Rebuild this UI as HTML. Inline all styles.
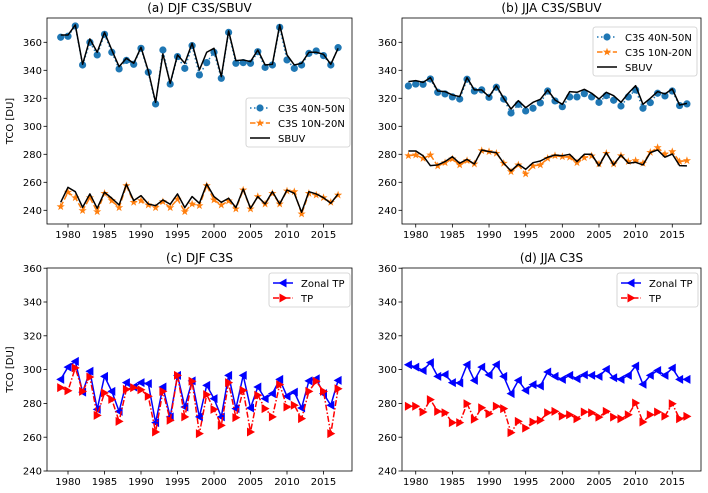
<!DOCTYPE html>
<html><head><meta charset="utf-8"><style>
body{margin:0;background:#fff}
svg{display:block;font-family:"DejaVu Sans","Liberation Sans",sans-serif}
</style></head><body>
<svg id="chart" width="708" height="493" viewBox="0 0 708 493" xmlns="http://www.w3.org/2000/svg"></svg>
<script>
const years = [];
for (let y = 1979; y <= 2017; y++) years.push(y);
const yTicks = [240, 260, 280, 300, 320, 340, 360];
const xTicks = [1980, 1985, 1990, 1995, 2000, 2005, 2010, 2015];

const djfC3S4050 = [363.6,364.3,371.7,343.8,360,351,365.7,352.9,341,347.1,344.3,355.7,338.6,316,354.5,330.2,349.8,341.4,357.6,336.7,345.5,352.9,334.3,367.1,345,345.5,345,353.3,342.1,343.8,370.7,347.4,341.4,343.8,352.1,353.8,350.5,343.8,356.2];
const djfSBUVHigh = [365.2,365.2,372.4,344.3,362.4,352.9,367.1,354.5,342.6,348.6,345,356.4,339.5,317.1,351.7,330.7,351,345,359.3,340.2,352.9,355.7,335.5,368.1,346.9,347.4,346.2,354.5,343.8,344.3,372.4,351,343.8,345,352.9,352.9,351.4,344.3,355.7];
const djfC3S1020 = [242.6,252.9,249,239.8,249,239,252.1,246.9,241.9,257.6,245.7,246.9,243.8,241.9,246.2,241.9,247.9,239,244.5,243.3,257.6,247.4,243.8,246.7,241,254.5,241,249.8,244.5,252.1,244.5,253.8,253.3,237.4,252.1,250.9,249,245.7,250.9];
const djfSBUVLow = [245.7,256.4,253.3,242.1,251.7,241.4,252.9,248.6,243.8,258.6,246.9,250.5,244.5,243.3,247.4,244.3,251.7,241.9,249.8,245,258.8,249.8,245.7,248.6,241.9,255.2,241.4,249.8,244.5,253.3,244.5,254.5,252.1,238.6,253.3,251.7,249,245,251.7];

const jjaC3S4050 = [328.8,330.2,330,333.8,324.3,323.1,321,319.5,333.6,325.2,326,320.7,327.9,319.5,309.5,315.7,311,312.9,316.7,325.2,318.1,314,321,321,323.3,321,317.1,321.9,318.6,314.5,321,326,312.9,316.9,323.6,321.7,325.2,314.8,316];
const jjaSBUVHigh = [331.9,332.6,331.4,334.8,325.2,324.8,322.4,321.2,334.8,326,326,321.2,329,320,312.4,318.3,313.3,317.1,319.3,326,318.8,315.7,324.8,324.3,326.4,323.6,319.5,324.3,321.9,317.1,323.6,329,315.7,320,324.8,323.1,326.7,315.2,316.4];
const jjaC3S1020 = [279,279.5,277.1,279.5,271.7,274,276.7,272.4,275.5,273.1,282.6,281.9,280.7,273.6,267.6,272.4,266,271.7,272.4,277.1,279,278.3,277.9,274,277.6,278.8,273.1,280.7,273.1,279,274.8,275.5,273.6,281.4,284.8,280.2,281.9,274.8,275.5];
const jjaSBUVLow = [282.4,282.4,279,271.9,272.4,274.8,278.3,273.6,276.4,273.1,283.1,281.9,281.2,273.6,268.1,272.9,269.3,274,275.2,277.9,279.5,279,280,274.8,280,280,271.7,281.2,272.4,279.5,273.6,274.3,272.4,281.2,283.1,277.9,280.2,271.9,271.7];

const djfZonalTP = [294.2,301.5,304.9,286.7,299,276.5,296,287.1,275.3,292.3,289.7,292.3,291.7,268.6,289.7,272,296.6,277.9,293.3,272,290.7,282.8,272,296.6,276.9,296.6,277.3,289.7,282.8,285.8,294.2,284.2,286.7,277.3,293.3,294.6,285.8,278.9,293.6];
const djfTP = [289.3,287.5,301,287.1,295.6,272.9,286.2,282.4,269.4,288.3,289.3,288.1,284.2,263.1,287.1,270,296.6,272,293.1,262.1,285.2,276.5,267,292.3,271.6,287.7,263.1,284.8,276.9,272,291.1,277.9,278.9,271,287.1,293.1,287.1,262.1,288.7];

const jjaZonalTP = [302.9,301.5,299.5,304.1,296,297,292.3,292.1,302.9,293.6,301.5,296.9,302.9,296,285.8,293.6,287.7,291.1,290.3,298.6,296,294.2,296.6,294.6,296.9,296.6,296,300.1,295.2,294.2,296.6,302.1,291.3,296.6,299.5,296.6,300.9,294.2,294.2];
const jjaTP = [278.3,278.3,274.9,282.2,275.3,274.5,268.6,268.6,279.8,270.6,277.4,273.9,278.3,276.9,262.7,269.4,265.4,269,270,274.5,275.3,272.5,273.3,270.9,274.9,274.5,271.9,275.3,271.9,270.9,273.3,280.2,269,273.3,274.9,272.5,279.8,270.9,272.3];

const svg = document.getElementById('chart');
const NS = 'http://www.w3.org/2000/svg';
function mk(tag, attrs, parent) {
  const e = document.createElementNS(NS, tag);
  for (const k in attrs) e.setAttribute(k, attrs[k]);
  (parent || svg).appendChild(e);
  return e;
}

const panels = [
  {id:'a', title:'(a) DJF C3S/SBUV', L:47, R:352, T:18, B:224, x0:60.7, dx:7.3, vy0:42.3, vs:1.4, ylab:true},
  {id:'b', title:'(b) JJA C3S/SBUV', L:402, R:701, T:18, B:224, x0:408.4, dx:7.33, vy0:42.3, vs:1.4, ylab:false},
  {id:'c', title:'(c) DJF C3S', L:47, R:352, T:268, B:471, x0:60.7, dx:7.3, vy0:268.2, vs:1.69, ylab:true},
  {id:'d', title:'(d) JJA C3S', L:402, R:701, T:268, B:471, x0:408.4, dx:7.33, vy0:268.2, vs:1.69, ylab:false}
];
panels.forEach(p => {
  p.xs = yr => p.x0 + (yr - 1979) * p.dx;
  p.ys = v => p.vy0 + (360 - v) * p.vs;
});

function drawAxes(p) {
  const g = mk('g', {});
  
  
  xTicks.forEach(t => {
    const x = p.xs(t);
    const tk = mk('line', {x1:x, x2:x, y1:p.B, y2:p.B+3.5, stroke:'#000', 'stroke-width':0.8}, g);
    
    
    const tx = mk('text', {x:x, y:p.B+14, 'font-size':10, 'text-anchor':'middle'}, g);
    tx.textContent = t;
    
    
  });
  yTicks.forEach(t => {
    const y = p.ys(t);
    const tk = mk('line', {x1:p.L-3.5, x2:p.L, y1:y, y2:y, stroke:'#000', 'stroke-width':0.8}, g);
    
    
    const tx = mk('text', {x:p.L-5, y:y+3.6, 'font-size':10, 'text-anchor':'end'}, g);
    tx.textContent = t;
    
    
  });
  const fr = mk('rect', {x:p.L, y:p.T, width:p.R-p.L, height:p.B-p.T, fill:'none', stroke:'#000', 'stroke-width':0.8}, g);
  
  
  const ti = mk('text', {x:(p.L+p.R)/2, y:p.T-6, 'font-size':12, 'text-anchor':'middle'}, g);
  ti.textContent = p.title;
  
  
  if (p.ylab) {
    const cy = (p.T + p.B) / 2;
    const yl = mk('text', {x:0, y:0, 'font-size':10, 'text-anchor':'middle', transform:'translate(13,'+cy+') rotate(-90)'}, g);
    yl.textContent = 'TCO [DU]';
    
    
  }
}

function marker(type, x, y, color, g) {
  let e;
  if (type === 'circle') {
    e = mk('circle', {cx:x, cy:y, r:3.6, fill:color}, g);
  } else if (type === 'star') {
    const pts = [];
    for (let i = 0; i < 10; i++) {
      const r = i % 2 ? 1.7 : 4.3;
      const a = -Math.PI/2 + i * Math.PI/5;
      pts.push((x + r*Math.cos(a)).toFixed(2) + ',' + (y + r*Math.sin(a)).toFixed(2));
    }
    e = mk('polygon', {points:pts.join(' '), fill:color}, g);
  } else if (type === 'left') {
    e = mk('polygon', {points:(x-4.5)+','+y+' '+(x+3.5)+','+(y-4.5)+' '+(x+3.5)+','+(y+4.5), fill:color}, g);
  } else {
    e = mk('polygon', {points:(x+4.5)+','+y+' '+(x-3.5)+','+(y-4.5)+' '+(x-3.5)+','+(y+4.5), fill:color}, g);
  }
  return e;
}

function drawSeries(p, vals, name, color, dash, mtype, width) {
  const g = mk('g', {});
  
  
  const pts = vals.map((v, i) => p.xs(years[i]).toFixed(2) + ',' + p.ys(v).toFixed(2)).join(' ');
  const attrs = {points:pts, fill:'none', stroke:color, 'stroke-width':width || 1.5, 'stroke-linejoin':'round'};
  if (dash) attrs['stroke-dasharray'] = dash;
  const ln = mk('polyline', attrs, g);
  
  
  if (mtype) {
    vals.forEach((v, i) => {
      const m = marker(mtype, p.xs(years[i]), p.ys(v), color, g);
      
      
    });
  }
}

function legend(x, y, w, entries) {
  const g = mk('g', {});
  
  
  const bx = mk('rect', {x:x, y:y, width:w, height:entries.length*15+4, rx:2.5, fill:'#fff', 'fill-opacity':0.85, stroke:'#ccc', 'stroke-width':0.8}, g);
  
  
  entries.forEach((en, i) => {
    const cy = y + 10 + i*15;
    const a = {x1:x+4, x2:x+24, y1:cy, y2:cy, stroke:en.c, 'stroke-width':1.5};
    if (en.d) a['stroke-dasharray'] = en.d;
    const l = mk('line', a, g);
    
    
    if (en.m) {
      const m = marker(en.m, x+14, cy, en.c, g);
      
      
    }
    const t = mk('text', {x:x+32, y:cy+4, 'font-size':10}, g);
    t.textContent = en.t;
    
    
  });
}

const [pa, pb, pc, pd] = panels;
panels.forEach(drawAxes);

drawSeries(pa, djfC3S4050, 'djf-c3s-40n-50n', '#1f77b4', '1.5 2.5', 'circle');
drawSeries(pa, djfC3S1020, 'djf-c3s-10n-20n', '#ff7f0e', '5.5 2.4', 'star');
drawSeries(pa, djfSBUVHigh, 'djf-sbuv-40n-50n', '#000', null, null);
drawSeries(pa, djfSBUVLow, 'djf-sbuv-10n-20n', '#000', null, null);
legend(246, 98, 104, [{t:'C3S 40N-50N', c:'#1f77b4', d:'1.5 2.5', m:'circle'},{t:'C3S 10N-20N', c:'#ff7f0e', d:'5.5 2.4', m:'star'},{t:'SBUV', c:'#000'}]);

drawSeries(pb, jjaC3S4050, 'jja-c3s-40n-50n', '#1f77b4', '1.5 2.5', 'circle');
drawSeries(pb, jjaC3S1020, 'jja-c3s-10n-20n', '#ff7f0e', '5.5 2.4', 'star');
drawSeries(pb, jjaSBUVHigh, 'jja-sbuv-40n-50n', '#000', null, null);
drawSeries(pb, jjaSBUVLow, 'jja-sbuv-10n-20n', '#000', null, null);
legend(593, 27, 104, [{t:'C3S 40N-50N', c:'#1f77b4', d:'1.5 2.5', m:'circle'},{t:'C3S 10N-20N', c:'#ff7f0e', d:'5.5 2.4', m:'star'},{t:'SBUV', c:'#000'}]);

drawSeries(pc, djfZonalTP, 'djf-zonal-tp', '#0000ff', null, 'left');
drawSeries(pc, djfTP, 'djf-tp', '#ff0000', '6 2 1.5 2', 'right');
legend(269, 273, 81, [{t:'Zonal TP', c:'#0000ff', m:'left'},{t:'TP', c:'#ff0000', d:'6 2 1.5 2', m:'right'}]);

drawSeries(pd, jjaZonalTP, 'jja-zonal-tp', '#0000ff', null, 'left');
drawSeries(pd, jjaTP, 'jja-tp', '#ff0000', '6 2 1.5 2', 'right');
legend(617, 273, 81, [{t:'Zonal TP', c:'#0000ff', m:'left'},{t:'TP', c:'#ff0000', d:'6 2 1.5 2', m:'right'}]);
</script>
</body></html>
